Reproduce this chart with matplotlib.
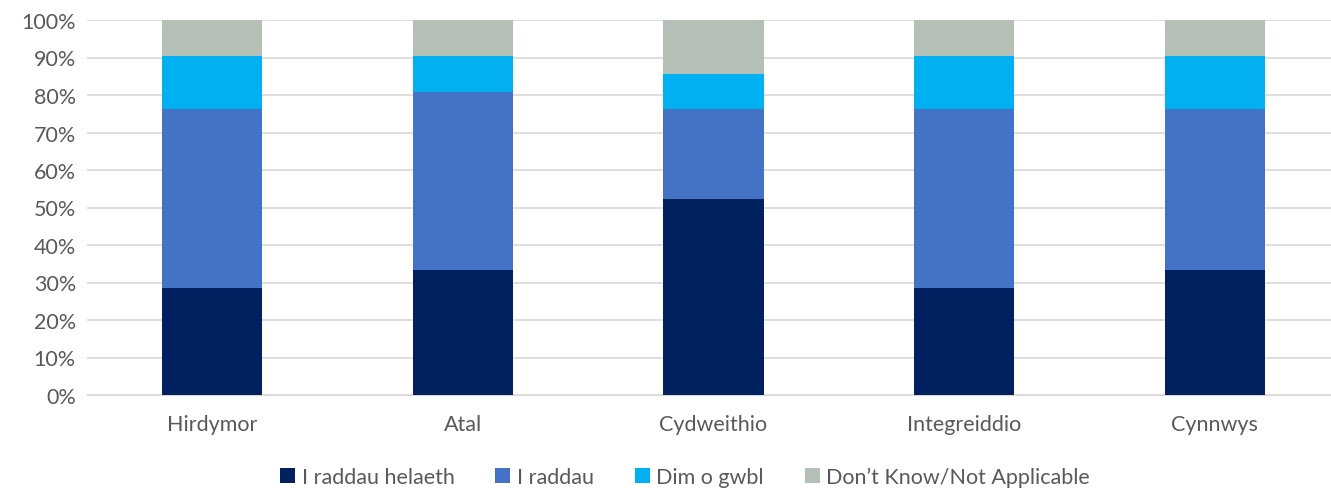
import numpy as np
import matplotlib
matplotlib.use("Agg")
from matplotlib import pyplot as plt

categories = ["Hirdymor", "Atal", "Cydweithio", "Integreiddio", "Cynnwys"]
series_names = ["I raddau helaeth", "I raddau", "Dim o gwbl", "Don\u2019t Know/Not Applicable"]
helaeth = [28.6, 33.3, 52.4, 28.6, 33.3]
raddau = [47.6, 47.6, 23.8, 47.6, 42.9]
dim = [14.3, 9.5, 9.5, 14.3, 14.3]
dont_know = [9.5, 9.5, 14.3, 9.5, 9.5]
colors = ["#002060", "#4472C4", "#00B0F0", "#B4BFB6"]

plt.rcParams['font.family'] = ['Lato', 'DejaVu Sans']
text_color = "#595959"

fig = plt.figure(figsize=(13.31, 4.89), dpi=100)
ax = fig.add_axes([87 / 1331, 1 - 396 / 489, 1253 / 1331, 375 / 489])

x = np.arange(len(categories))
bottom = np.zeros(len(categories))
for name, vals, c in zip(series_names, [helaeth, raddau, dim, dont_know], colors):
    ax.bar(x, vals, width=0.4, bottom=bottom, color=c, label=name, zorder=3)
    bottom += np.array(vals)

ax.set_xlim(-0.5, len(categories) - 0.5)
ax.set_ylim(0, 100)
ax.set_yticks(np.arange(0, 101, 10))
ax.set_yticklabels([f"{v}%" for v in range(0, 101, 10)])
ax.set_xticks(x)
ax.set_xticklabels(categories)
ax.yaxis.grid(True, color="#D9D9D9", linewidth=1.2, zorder=0)
for s in ax.spines.values():
    s.set_visible(False)
ax.spines['bottom'].set_visible(True)
ax.spines['bottom'].set_color("#D9D9D9")
ax.tick_params(axis='both', length=0, labelsize=15.5, colors=text_color)
ax.tick_params(axis='x', pad=14)
ax.tick_params(axis='y', pad=8)

fig.legend(loc='center', bbox_to_anchor=(685 / 1331, 1 - 478 / 489), ncol=4,
           frameon=False, fontsize=15.5, handlelength=0.7, handleheight=0.7,
           handletextpad=0.3, columnspacing=1.9, labelcolor=text_color)

fig.savefig("out.png", dpi=100)
